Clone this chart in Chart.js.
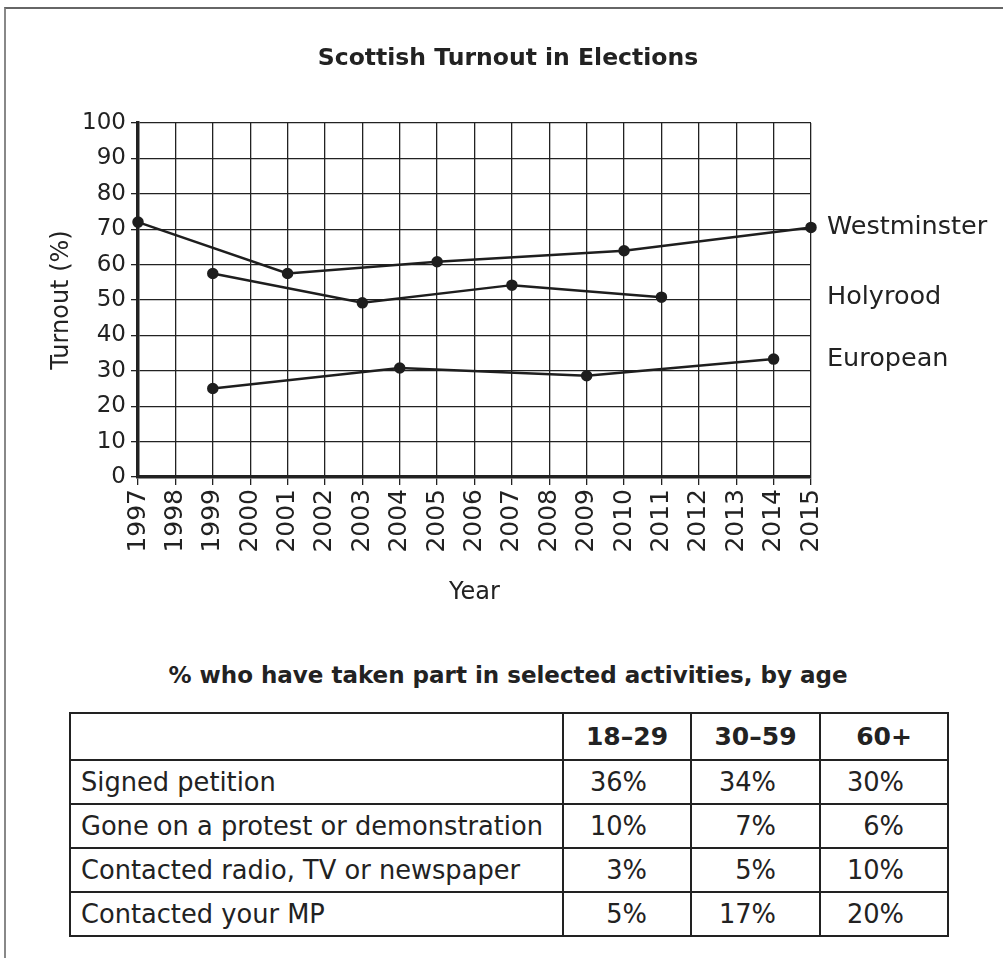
<!DOCTYPE html>
<html>
<head>
<meta charset="utf-8">
<script src="https://cdn.jsdelivr.net/npm/chart.js@4"></script>
<style>
  body { margin: 0; background: #fff; width: 1003px; height: 958px; overflow: hidden; position: relative; }
  #frame { position: absolute; left: 4px; top: 7px; width: 1010px; height: 960px;
           border-top: 2px solid #666; border-left: 2px solid #888; }
  #chartBox { position: absolute; left: 0; top: 0; width: 1003px; height: 640px; }
  .heading { position: absolute; left: 0; width: 1016px; text-align: center; line-height: 28px;
             font: bold 23.5px "DejaVu Sans", sans-serif; color: #222; }
  #title { top: 43px; }
  #subtitle { top: 662px; font-size: 23px; }
  #activities { position: absolute; left: 69px; top: 712px; border-collapse: collapse;
                table-layout: fixed; width: 878px;
                font: 25.7px "DejaVu Sans", sans-serif; color: #222; }
  #activities td, #activities th { border: 2px solid #222; height: 42px; padding: 0; white-space: nowrap; }
  #activities th { font-weight: bold; font-size: 25px; text-align: center; height: 45px; }
  #activities td.name { text-align: left; padding-left: 10px; }
  #activities td.val { text-align: right; padding-right: 43px; }
</style>
</head>
<body>
<div id="frame"></div>
<div id="chartBox"><canvas id="turnoutChart"></canvas></div>
<div id="title" class="heading">Scottish Turnout in Elections</div>
<div id="subtitle" class="heading">% who have taken part in selected activities, by age</div>
<table id="activities">
  <colgroup><col style="width:493px"><col style="width:128px"><col style="width:129px"><col style="width:128px"></colgroup>
  <tbody id="activityRows"></tbody>
</table>
<script>
const years = ["1997", "1998", "1999", "2000", "2001", "2002", "2003", "2004", "2005", "2006",
  "2007", "2008", "2009", "2010", "2011", "2012", "2013", "2014", "2015"];

const westminsterYears = ["1997", "2001", "2005", "2010", "2015"];
const westminsterTurnout = [72, 57.5, 60.8, 63.9, 70.5];

const holyroodYears = ["1999", "2003", "2007", "2011"];
const holyroodTurnout = [57.5, 49.2, 54.2, 50.8];

const europeanYears = ["1999", "2004", "2009", "2014"];
const europeanTurnout = [25, 30.8, 28.6, 33.3];

const seriesNames = ["Westminster", "Holyrood", "European"];

const ageGroups = ["18–29", "30–59", "60+"];
const activities = [
  "Signed petition",
  "Gone on a protest or demonstration",
  "Contacted radio, TV or newspaper",
  "Contacted your MP"
];
const age18to29 = ["36%", "10%", "3%", "5%"];
const age30to59 = ["34%", "7%", "5%", "17%"];
const age60plus = ["30%", "6%", "10%", "20%"];

function toPoints(xs, ys) {
  return xs.map((x, i) => ({ x: x, y: ys[i] }));
}

function lineSet(label, xs, ys) {
  return {
    label: label,
    data: toPoints(xs, ys),
    borderColor: "#1e1e1e",
    backgroundColor: "#1e1e1e",
    borderWidth: 2.5,
    pointRadius: 4.5,
    pointHoverRadius: 4.5,
    tension: 0,
  };
}

// names written beside the last point of each line
const endLabels = {
  id: "endLabels",
  afterDatasetsDraw(chart) {
    const ctx = chart.ctx;
    ctx.save();
    ctx.font = '25.5px "DejaVu Sans", sans-serif';
    ctx.fillStyle = "#222";
    ctx.textAlign = "left";
    ctx.textBaseline = "middle";
    chart.data.datasets.forEach((ds, i) => {
      const pts = chart.getDatasetMeta(i).data;
      const last = pts[pts.length - 1];
      ctx.fillText(seriesNames[i], chart.chartArea.right + 16, last.y);
    });
    ctx.restore();
  },
};

const axisFont = '"DejaVu Sans", sans-serif';

new Chart(document.getElementById("turnoutChart"), {
  type: "line",
  data: {
    labels: years,
    datasets: [
      lineSet("Westminster", westminsterYears, westminsterTurnout),
      lineSet("Holyrood", holyroodYears, holyroodTurnout),
      lineSet("European", europeanYears, europeanTurnout),
    ],
  },
  options: {
    responsive: true,
    maintainAspectRatio: false,
    animation: false,
    layout: { padding: { left: 0, right: 192, top: 123, bottom: 0 } },
    plugins: {
      legend: { display: false },
      tooltip: { enabled: false },
    },
    scales: {
      x: {
        type: "category",
        offset: false,
        border: { color: "#222", width: 3.5 },
        grid: { color: "#222", lineWidth: 1.3, tickLength: 8, tickColor: "#222" },
        ticks: {
          color: "#222",
          font: { family: axisFont, size: 25 },
          minRotation: 90,
          maxRotation: 90,
          autoSkip: false,
          padding: 4,
        },
        title: {
          display: true,
          text: "Year",
          color: "#222",
          font: { family: axisFont, size: 24 },
          padding: { top: 0, bottom: 33 },
        },
        afterFit(scale) { scale.height = 163; },
      },
      y: {
        min: 0,
        max: 100,
        border: { color: "#222", width: 3.5 },
        grid: { color: "#222", lineWidth: 1.3, tickLength: 7, tickColor: "#222" },
        ticks: { stepSize: 10, color: "#222", font: { family: axisFont, size: 23 }, padding: 5 },
        title: {
          display: true,
          text: "Turnout (%)",
          color: "#222",
          font: { family: axisFont, size: 24 },
          padding: { top: 47, bottom: 0 },
        },
        afterFit(scale) { scale.width = 138; },
      },
    },
  },
  plugins: [endLabels],
});

// activities table built from the arrays above
let html = "<tr><th></th>" + ageGroups.map((g) => "<th>" + g + "</th>").join("") + "</tr>";
activities.forEach((name, i) => {
  html += "<tr><td class='name'>" + name + "</td>" +
    "<td class='val'>" + age18to29[i] + "</td>" +
    "<td class='val'>" + age30to59[i] + "</td>" +
    "<td class='val'>" + age60plus[i] + "</td></tr>";
});
document.getElementById("activityRows").innerHTML = html;
</script>
</body>
</html>
